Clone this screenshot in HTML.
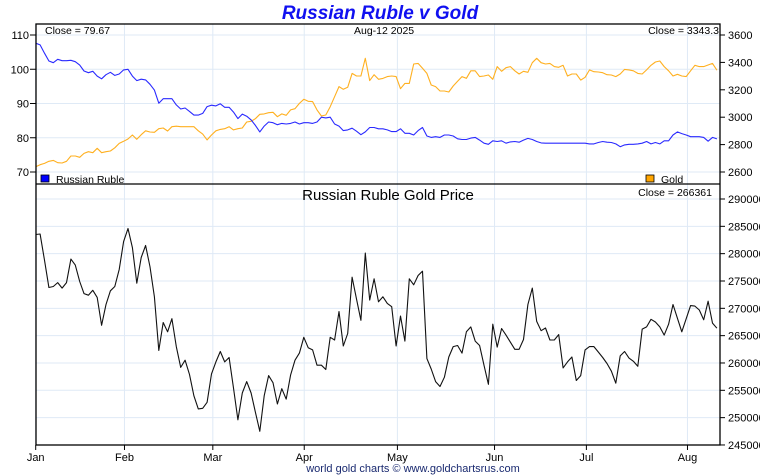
<!DOCTYPE html>
<html><head><meta charset="utf-8"><style>
body{margin:0;background:#fff}
svg{display:block;font-family:"Liberation Sans",sans-serif}
</style></head><body>
<svg id="c" width="760" height="475" viewBox="0 0 760 475">
<text x="380" y="19" text-anchor="middle" font-size="19" font-weight="bold" font-style="italic" fill="#1010f0">Russian Ruble v Gold</text>
<g id="grid"></g>
<g id="series"></g>
<rect x="36" y="24" width="684" height="421" fill="none" stroke="#000" stroke-width="1.3"/>
<line x1="36" y1="184" x2="720" y2="184" stroke="#000" stroke-width="1.3"/>
<g id="axes"></g>
<text x="45" y="34" font-size="10.5">Close = 79.67</text>
<text x="354" y="34" font-size="10.5">Aug-12  2025</text>
<text x="719" y="34" font-size="10.5" text-anchor="end">Close = 3343.3</text>
<rect x="41" y="175" width="8" height="7" fill="#0000ff" stroke="#000" stroke-width="0.8"/>
<text x="56" y="183" font-size="10.5">Russian Ruble</text>
<rect x="646" y="175" width="8" height="7" fill="#ffa500" stroke="#000" stroke-width="0.8"/>
<text x="661" y="183" font-size="10.5">Gold</text>
<text x="388" y="200" text-anchor="middle" font-size="15">Russian Ruble Gold Price</text>
<text x="712" y="196" text-anchor="end" font-size="10.5">Close = 266361</text>
<text x="413" y="472" text-anchor="middle" font-size="11" fill="#1a2a70">world gold charts © www.goldchartsrus.com</text>
</svg>
<script>
const months = ["Jan","Feb","Mar","Apr","May","Jun","Jul","Aug"];
const monthStartIdx = [0, 20.2, 40.3, 61.1, 82.3, 104.4, 125.3, 148.3];
const rubleTicks = [70,80,90,100,110];
const goldTicks = [2600,2800,3000,3200,3400,3600];
const priceTicks = [245000,250000,255000,260000,265000,270000,275000,280000,285000,290000];
const ruble = [107.6,107.1,104.7,102.4,101.9,102.9,102.5,102.5,102.6,102.2,101.2,99.5,99.0,99.4,98.0,97.2,98.4,99.1,98.2,98.6,99.8,100.0,98.0,96.7,97.1,96.9,95.6,93.9,90.1,91.4,91.4,91.4,89.6,88.4,88.7,87.7,86.6,86.6,87.1,89.1,89.5,89.3,89.9,88.9,88.9,87.5,85.6,86.9,86.3,85.2,83.6,81.7,83.4,84.6,84.4,83.8,84.2,84.0,84.2,84.6,84.0,84.4,84.4,84.2,84.6,86.0,85.8,86.0,84.0,83.4,82.1,82.3,82.8,81.9,80.9,81.7,83.0,83.0,82.6,82.6,82.3,81.8,81.8,82.6,81.3,81.3,80.8,82.1,83.0,80.5,80.1,80.3,80.1,80.8,80.8,80.5,79.7,79.5,79.5,79.9,80.1,79.3,78.4,78.1,79.1,78.9,79.1,78.4,78.8,78.9,78.7,79.3,79.8,79.5,78.9,78.5,78.4,78.4,78.4,78.4,78.4,78.4,78.4,78.4,78.4,78.4,78.2,78.2,78.6,78.9,78.7,78.6,78.2,77.4,77.9,78.1,78.1,78.2,78.4,78.9,78.2,78.6,78.2,79.1,79.1,80.8,81.7,81.2,80.8,80.3,80.3,80.3,80.1,79.0,80.1,79.67];
const gold = [2639,2653,2663,2678,2685,2668,2666,2678,2717,2717,2707,2736,2748,2741,2773,2741,2748,2753,2777,2809,2824,2841,2870,2839,2872,2901,2892,2890,2916,2921,2899,2931,2934,2931,2931,2931,2931,2901,2877,2834,2870,2901,2911,2916,2931,2907,2916,2921,2965,2970,2989,3021,3024,3033,3036,3004,3024,3014,3053,3062,3101,3131,3116,3114,3053,3009,3016,3077,3150,3223,3204,3218,3320,3301,3301,3430,3267,3310,3277,3283,3296,3301,3296,3208,3247,3247,3388,3393,3357,3320,3235,3223,3191,3191,3184,3228,3262,3296,3284,3339,3339,3296,3301,3308,3277,3369,3335,3361,3369,3339,3315,3335,3328,3398,3430,3398,3388,3393,3369,3364,3379,3301,3315,3315,3271,3291,3345,3332,3330,3325,3310,3308,3296,3315,3349,3345,3339,3320,3315,3345,3379,3403,3410,3369,3339,3301,3313,3301,3296,3339,3379,3369,3369,3381,3393,3343.3];
const priceK = [283.5,283.6,278.8,273.8,274.0,274.7,273.7,274.7,279.0,277.9,274.9,272.7,272.4,273.3,272.0,266.9,270.7,273.2,274.0,277.1,282.2,284.6,281.1,274.6,279.3,281.5,277.6,272.1,262.3,267.4,265.7,268.1,263.0,259.2,260.5,257.9,254.0,251.6,251.7,252.8,258.0,260.2,262.1,260.2,261.0,255.4,249.6,254.5,256.6,254.5,251.0,247.5,254.0,257.7,256.4,252.5,255.3,253.4,257.8,260.5,261.8,264.7,262.8,262.4,259.6,259.6,258.8,264.7,264.2,269.4,263.1,265.4,275.7,271.7,267.8,280.1,271.5,275.4,271.2,272.1,270.9,270.3,263.1,268.6,264.0,275.4,274.3,276.0,276.8,260.8,258.9,256.6,255.7,257.4,261.1,263.0,263.2,261.8,265.7,266.6,264.0,263.2,259.6,256.1,267.1,262.9,266.3,265.1,263.8,262.5,262.5,264.3,270.7,273.7,267.6,265.9,266.4,264.2,264.2,265.2,259.1,260.2,261.1,256.8,257.7,262.4,263.0,263.0,262.0,261.0,259.9,258.5,256.3,261.3,262.1,260.9,260.3,259.4,266.2,266.6,268.0,267.5,266.6,265.1,267.1,270.7,268.2,265.7,268.1,270.5,270.4,269.7,267.9,271.3,267.3,266.361];

const NS="http://www.w3.org/2000/svg";
const X0=35.7, DX=4.395;
const xAt=i=>X0+i*DX;
const yRuble=v=>35+(110-v)*3.425;
const yGold=v=>35+(3600-v)*0.137;
const yPrice=v=>199+(290000-v)*0.005466;
function mk(tag,attrs,parent){const e=document.createElementNS(NS,tag);for(const k in attrs)e.setAttribute(k,attrs[k]);parent.appendChild(e);return e;}
const grid=document.getElementById('grid'),axes=document.getElementById('axes'),ser=document.getElementById('series');
const GC="#dfeaf6";
// horizontal grid top
rubleTicks.forEach(v=>{const y=yRuble(v);
 const l=mk('line',{x1:36,x2:720,y1:y,y2:y,stroke:GC},grid);
 
 
 const t=mk('line',{x1:30,x2:36,y1:y,y2:y,stroke:'#000'},axes);
 
 
 const tx=mk('text',{x:29,y:y+4,'text-anchor':'end','font-size':11},axes);tx.textContent=v;
 
 
});
goldTicks.forEach(v=>{const y=yGold(v);
 const t=mk('line',{x1:720,x2:725,y1:y,y2:y,stroke:'#000'},axes);
 
 
 const tx=mk('text',{x:728,y:y+4,'font-size':11},axes);tx.textContent=v;
 
 
});
priceTicks.forEach(v=>{const y=yPrice(v);
 const l=mk('line',{x1:36,x2:720,y1:y,y2:y,stroke:GC},grid);
 
 
 const t=mk('line',{x1:720,x2:725,y1:y,y2:y,stroke:'#000'},axes);
 
 
 const tx=mk('text',{x:728,y:y+4,'font-size':11},axes);tx.textContent=v;
 
 
});
months.forEach((m,k)=>{const x=xAt(monthStartIdx[k]);
 const l=mk('line',{x1:x,x2:x,y1:24,y2:445,stroke:GC},grid);
 
 
 const t=mk('line',{x1:x,x2:x,y1:445,y2:450,stroke:'#000'},axes);
 
 
 const tx=mk('text',{x:x,y:461,'text-anchor':'middle','font-size':11},axes);tx.textContent=m;
 
 
});
function line(arr,yf,color,name,w){
 const p=mk('polyline',{points:arr.map((v,i)=>xAt(i).toFixed(1)+','+yf(v).toFixed(1)).join(' '),fill:'none',stroke:color,'stroke-width':w,'stroke-linejoin':'round'},ser);
 
 
}
line(gold,yGold,'#ffb020','gold-line',1.1);
line(ruble,yRuble,'#2a2aff','ruble-line',1.1);
line(priceK.map(v=>v*1000),yPrice,'#111','ruble-gold-price-line',1.1);
</script>
</body></html>
